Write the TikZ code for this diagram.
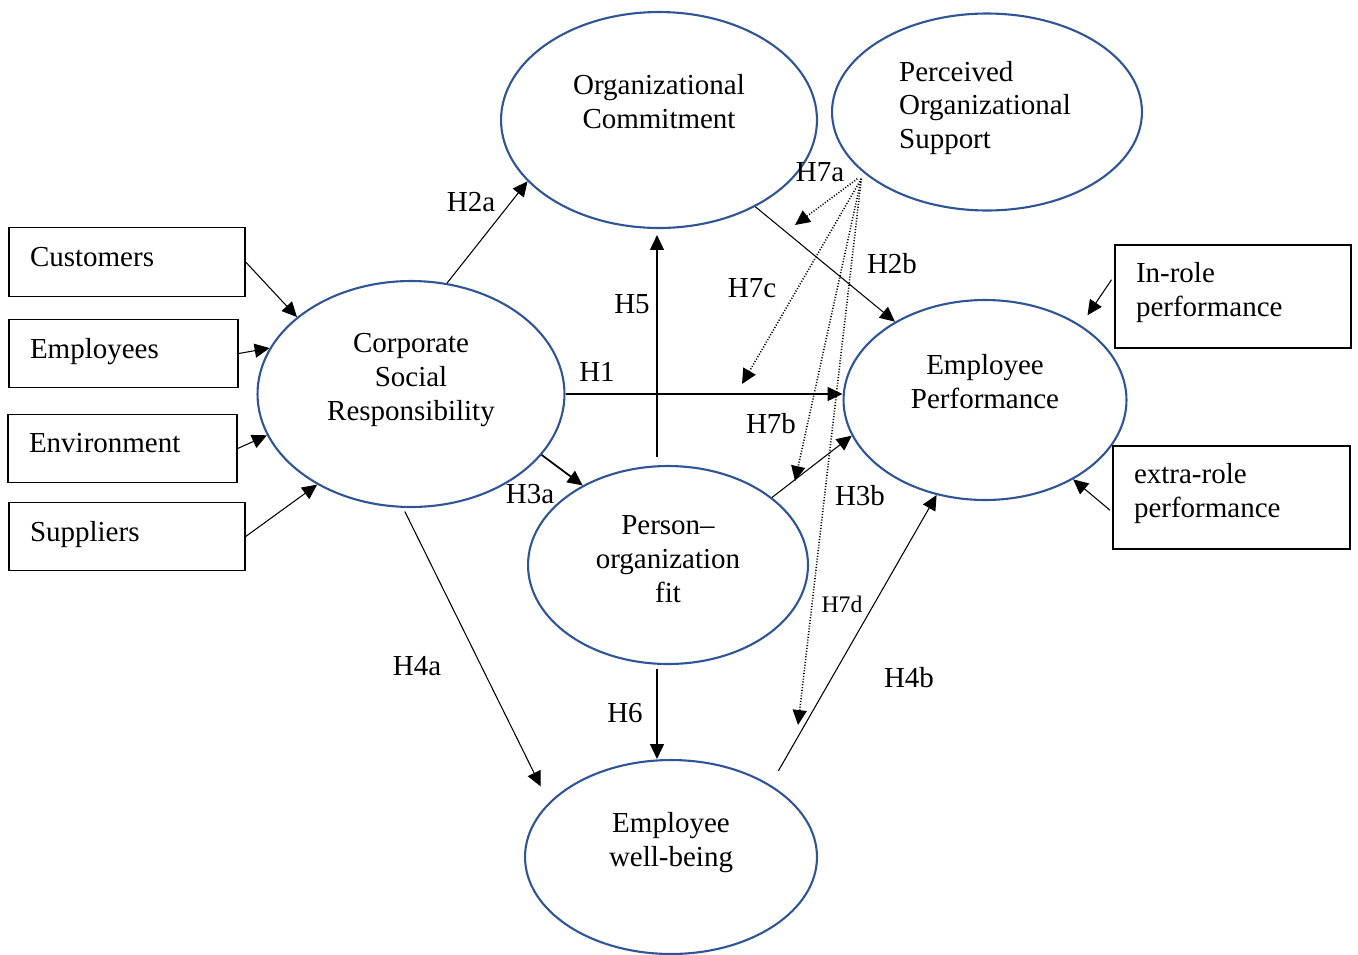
\documentclass[tikz,border=0pt]{standalone}
\usepackage{fontspec}
\setmainfont{Liberation Serif}
\usetikzlibrary{calc,shapes.geometric,arrows.meta}
\definecolor{ovalblue}{RGB}{47,85,151}
\tikzset{
  latent/.style={ellipse, draw=ovalblue, line width=1.2pt, inner sep=0pt},
  srcbox/.style={rectangle, draw, line width=0.8pt, inner xsep=0.42cm, align=left, minimum height=1.37cm, text depth=6pt},
  caption/.style={align=center, inner sep=0pt},
  hyp/.style={inner sep=0pt},
  link/.style={-{Triangle[length=8.5pt,width=8pt]}, line width=0.6pt},
  moder/.style={link, densely dotted, line width=0.9pt}
}

\begin{document}
\begin{tikzpicture}[x=0.02cm, y=-0.02cm, font=\fontsize{16.5pt}{19.3pt}\selectfont]
\useasboundingbox (0,0) rectangle (1358,954);
% constructs
\node[latent, minimum width=6.32cm, minimum height=4.32cm] (oc) at (659,120) {};
\node[latent, minimum width=6.2cm, minimum height=3.94cm] (pos) at (987,112) {};
\node[latent, minimum width=6.14cm, minimum height=4.52cm] (csr) at (411,394) {};
\node[latent, minimum width=5.66cm, minimum height=4cm] (ep) at (985,400) {};
\node[latent, minimum width=5.6cm, minimum height=3.96cm] (pof) at (668,565) {};
\node[latent, minimum width=5.84cm, minimum height=3.88cm] (ewb) at (671,857) {};
\node[caption] (oc-txt) at ($(oc)+(0,-18)$) {Organizational\\Commitment};
\node[caption, align=left] (pos-txt) at ($(pos)+(-2,-4)$) {Perceived\\Organizational\\Support};
\node[caption] (csr-txt) at ($(csr)+(0,-14)$) {Corporate\\Social\\Responsibility};
\node[caption] (ep-txt) at ($(ep)+(0,-18)$) {Employee\\Performance};
\node[caption] (pof-txt) at ($(pof)+(0,-6)$) {Person--\\organization\\fit};
\node[caption] (ewb-txt) at ($(ewb)+(0,-14)$) {Employee\\well-being};
% dimensions
\node[srcbox, text width=3.88cm] (cust) at (127,262) {Customers};
\node[srcbox, text width=3.74cm] (emp) at (123.5,353.5) {Employees};
\node[srcbox, text width=3.74cm] (env) at (122.5,448.5) {Environment};
\node[srcbox, text width=3.88cm] (sup) at (127,536.5) {Suppliers};
\node[srcbox, text width=3.88cm, minimum height=2.06cm, text depth=27.5pt] (inrole) at (1233,296.5) {In-role\\performance};
\node[srcbox, text width=3.9cm, minimum height=2.06cm, text depth=27.5pt] (extra) at (1231.5,497.5) {extra-role\\performance};
\draw[link] (cust.east) -- (csr.146);
\draw[link] (emp.east) -- (csr.162);
\draw[link] (env.east) -- (csr.196);
\draw[link] (sup.east) -- (csr.224);
\draw[link, shorten <=0.1cm, shorten >=0.24cm] (inrole.170) -- (ep.38);
\draw[link, shorten <=0.06cm] (extra.187) -- (ep.-42);
% hypotheses
\coordinate (spine) at (657,0);
\draw[link] (csr.72) -- (oc.205);
\draw[link, shorten <=0.16cm, shorten >=0.12cm] (pof.north -| spine) -- (oc.south -| spine);
\draw[link] (csr.east) -- (csr.east -| ep.west);
\draw[link, line width=1pt] (csr.-25) -- (pof.137);
\draw[link] (oc.-42) -- (ep.139);
\draw[link] (pof.33) -- (ep.195);
\draw[link, shorten <=0.08cm, shorten >=0.36cm] (csr.-94) -- (ewb.156);
\draw[link, shorten <=0.08cm] (pof.south -| spine) -- (ewb.north -| spine);
\draw[link, shorten <=0.32cm] (ewb.36) -- (ep.243);
% moderation by POS
\coordinate (h7a-tip) at (795,225);
\coordinate (h7c-tip) at (742,384);
\coordinate (h7b-tip) at (795,481);
\coordinate (h7d-tip) at (798,725);
\draw[moder] ([xshift=-0.28cm]pos.210) -- (h7a-tip);
\draw[moder] ([xshift=-0.2cm]pos.210) -- (h7c-tip);
\draw[moder] ([xshift=-0.2cm]pos.210) -- (h7b-tip);
\draw[moder] ([xshift=-0.2cm]pos.210) -- (h7d-tip);
% labels
\node[hyp] (l-h2a) at (471,202) {H2a};
\node[hyp] (l-h5) at (632,304) {H5};
\node[hyp] (l-h1) at (597,372) {H1};
\node[hyp] (l-h3a) at (530,494) {H3a};
\node[hyp] (l-h7a) at (820,172) {H7a};
\node[hyp] (l-h7c) at (752,288) {H7c};
\node[hyp] (l-h2b) at (892,264) {H2b};
\node[hyp] (l-h7b) at (771,424) {H7b};
\node[hyp] (l-h3b) at (860,496) {H3b};
\node[hyp, font=\fontsize{13.5pt}{16pt}\selectfont] (l-h7d) at (842,604) {H7d};
\node[hyp] (l-h4a) at (417,666) {H4a};
\node[hyp] (l-h6) at (625,713) {H6};
\node[hyp] (l-h4b) at (909,678) {H4b};
\end{tikzpicture}
\end{document}
